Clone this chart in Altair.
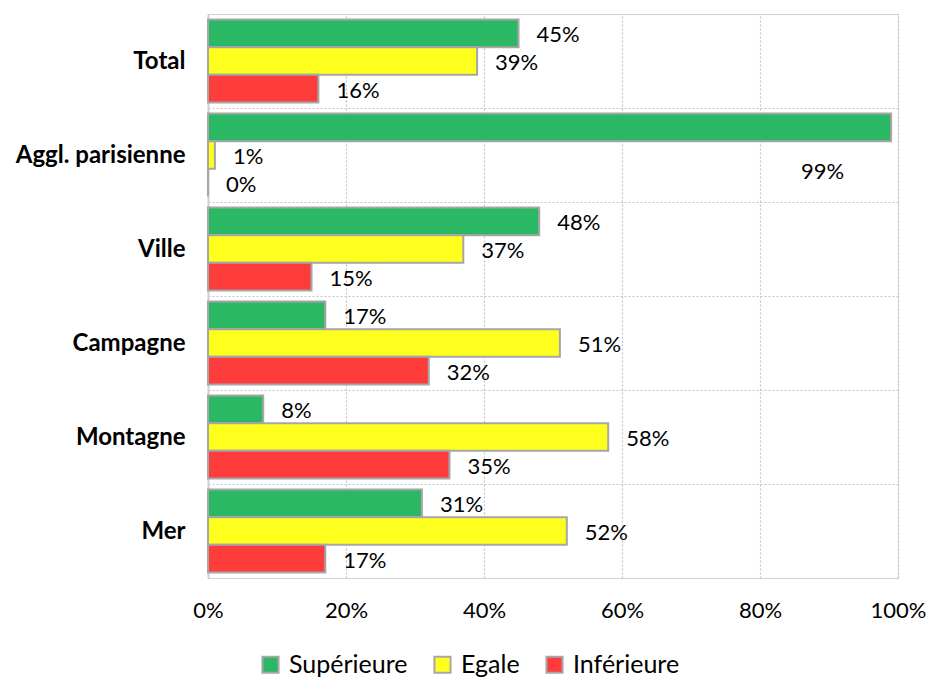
import altair as alt
import pandas as pd

categories = ["Total", "Aggl. parisienne", "Ville", "Campagne", "Montagne", "Mer"]
series = ["Supérieure", "Egale", "Inférieure"]
superieure = [45, 99, 48, 17, 8, 31]
egale = [39, 1, 37, 51, 58, 52]
inferieure = [16, 0, 15, 32, 35, 17]
colors = ["#2BB865", "#FFFF1E", "#FF3C3C"]
x_ticks = [0, 0.2, 0.4, 0.6, 0.8, 1.0]

rows = []
for i, c in enumerate(categories):
    for s, vals in zip(series, [superieure, egale, inferieure]):
        rows.append({"cat": c, "serie": s, "value": vals[i] / 100.0,
                     "label": f"{vals[i]}%"})
df = pd.DataFrame(rows)

FONT = "Lato"

y_enc = alt.Y("cat:N", sort=categories, title=None,
              scale=alt.Scale(paddingInner=0, paddingOuter=0),
              axis=alt.Axis(grid=True, tickBand="extent", gridDash=[2, 2],
                            gridColor="#C4C4C4", gridWidth=1.2,
                            domainColor="#D0D0D0", domainWidth=2,
                            ticks=False, labelFontWeight="bold",
                            labelFontSize=24, labelPadding=23,
                            labelColor="black", labelFont=FONT))
yoff_enc = alt.YOffset("serie:N", sort=series,
                       scale=alt.Scale(paddingInner=0, paddingOuter=0.2))
x_enc = alt.X("value:Q", title=None,
              scale=alt.Scale(domain=[0, 1], nice=False),
              axis=alt.Axis(values=x_ticks, format=".0%", grid=True,
                            gridDash=[2, 2], gridColor="#C4C4C4", gridWidth=1.2,
                            domain=False, ticks=False, labelPadding=22,
                            labelFlush=False,
                            labelFontSize=22, labelColor="black",
                            labelFont=FONT))

bars = alt.Chart(df).mark_bar(stroke="#A6A6A6", strokeWidth=2).encode(
    y=y_enc, yOffset=yoff_enc, x=x_enc,
    fill=alt.Fill("serie:N", sort=series,
                  scale=alt.Scale(domain=series, range=colors),
                  legend=alt.Legend(title=None, orient="none", direction="horizontal",
                                    legendX=50, legendY=638,
                                    symbolType="square", symbolSize=260,
                                    symbolStrokeColor="#A6A6A6", symbolStrokeWidth=2,
                                    labelFontSize=25, labelFont=FONT,
                                    labelColor="black", columnPadding=22,
                                    labelOffset=6)),
)

labels = alt.Chart(df).transform_filter("datum.value < 0.9").mark_text(
    align="left", baseline="middle", dx=18, dy=2, fontSize=22, font=FONT,
    color="black").encode(y=y_enc, yOffset=yoff_enc, x=x_enc, text="label:N")

big_labels = alt.Chart(df).transform_filter("datum.value >= 0.9").mark_text(
    align="left", baseline="middle", dx=-90, dy=45, fontSize=22, font=FONT,
    color="black").encode(y=y_enc, yOffset=yoff_enc, x=x_enc, text="label:N")

chart = (bars + labels + big_labels).properties(
    width=690, height=564,
    autosize=alt.AutoSizeParams(type="none"),
    padding={"left": 200, "top": 6, "right": 32, "bottom": 102},
).configure_view(stroke=None).configure(background="white")

chart.save("out.html", embed_options={"renderer": "svg", "actions": False})
